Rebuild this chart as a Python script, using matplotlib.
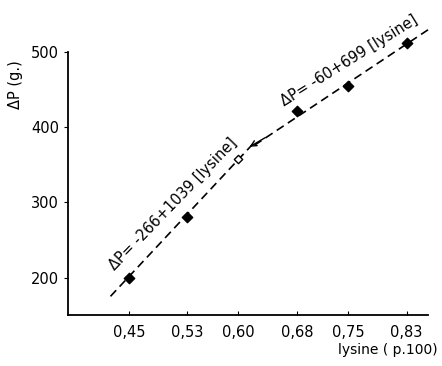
import matplotlib
matplotlib.use("Agg")
import matplotlib.pyplot as plt

lysine = [0.45, 0.53, 0.68, 0.75, 0.83]
gain = [200, 280, 421, 455, 512]
open_x = [0.60]
open_y = [357]
tick_labels = ["0,45", "0,53", "0,60", "0,68", "0,75", "0,83"]
tick_pos = [0.45, 0.53, 0.60, 0.68, 0.75, 0.83]

# fitted lines, end points
line1_x = [0.425, 0.622]
line1_y = [175, 380]
line2_x = [0.622, 0.86]
line2_y = [376, 530]

plt.rcParams["font.family"] = "DejaVu Sans"
fig = plt.figure(figsize=(4.42, 3.66), dpi=100)
ax = fig.add_axes([0.154, 0.139, 0.814, 0.719])

ax.plot(line1_x, line1_y, color="black", lw=1.2, dashes=(5, 3), clip_on=False)
ax.plot(line2_x, line2_y, color="black", lw=1.2, dashes=(5, 3), clip_on=False)
ax.annotate("", xy=(0.612, 372), xytext=(0.64, 388),
            arrowprops=dict(arrowstyle="->", color="black", lw=1))
ax.scatter(lysine, gain, marker="D", s=28, color="black", zorder=3, clip_on=False)
ax.scatter(open_x, open_y, marker="D", s=18, facecolor="white",
           edgecolor="black", lw=1, zorder=3)

ax.text(0.511, 298, "ΔP= -266+1039 [lysine]", rotation=46, fontsize=10.5,
        ha="center", va="center", rotation_mode="anchor")
ax.text(0.752, 489, "ΔP= -60+699 [lysine]", rotation=32, fontsize=10.5,
        ha="center", va="center", rotation_mode="anchor")

ax.set_xlim(0.367, 0.859)
ax.set_ylim(150, 500)
ax.set_xticks(tick_pos)
ax.set_xticklabels(tick_labels)
ax.set_yticks([200, 300, 400, 500])
ax.tick_params(axis="x", direction="in", length=3, labelsize=10.5, pad=7)
ax.tick_params(axis="y", direction="out", length=3, labelsize=10.5)
for s in ["top", "right"]:
    ax.spines[s].set_visible(False)
for s in ["left", "bottom"]:
    ax.spines[s].set_linewidth(1.3)

fig.text(0.034, 0.77, "ΔP (g.)", rotation=90, fontsize=10.5, ha="center", va="center")
fig.text(0.99, 0.045, "lysine ( p.100)", fontsize=10, ha="right", va="center")

fig.savefig("out.png", dpi=100)
